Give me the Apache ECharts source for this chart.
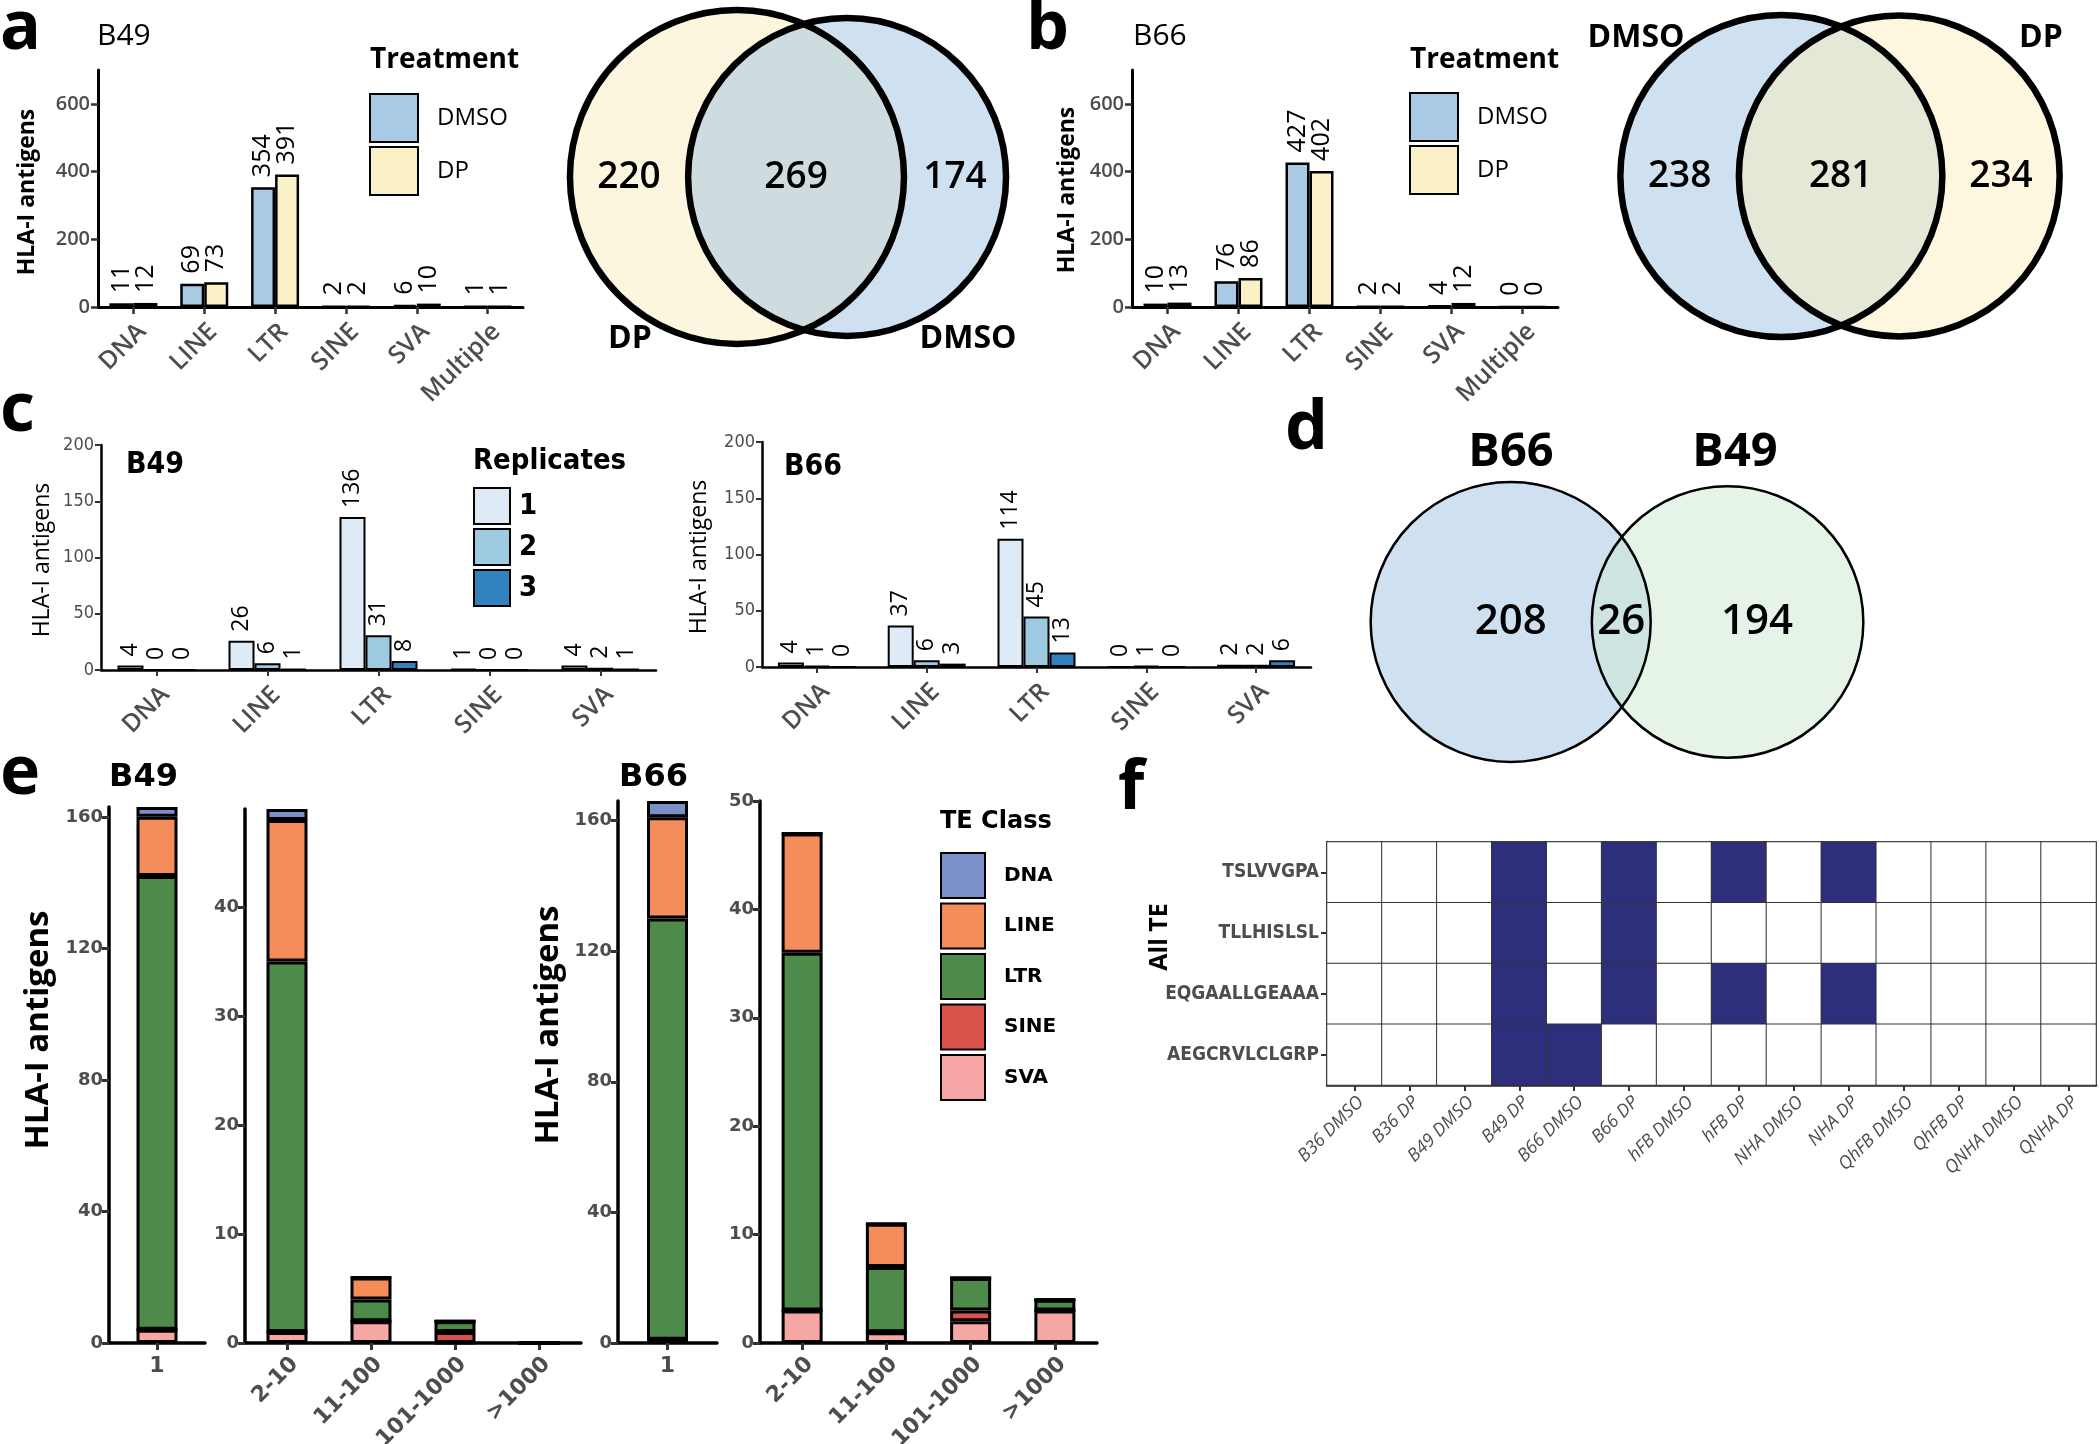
<!DOCTYPE html>
<html><head><meta charset="utf-8">
<script src="https://cdn.jsdelivr.net/npm/echarts@6/dist/echarts.min.js"></script>
<style>html,body{margin:0;padding:0;background:#fff}#c{width:2100px;height:1444px}</style>
</head><body><div id="c"></div><script>
// ================= DATA =================
// Panels a / b : HLA-I antigens per TE class and treatment
const teCats6 = ['DNA', 'LINE', 'LTR', 'SINE', 'SVA', 'Multiple'];
const treatments = ['DMSO', 'DP'];
const aB49_DMSO = [11, 69, 354, 2, 6, 1];
const aB49_DP   = [12, 73, 391, 2, 10, 1];
const bB66_DMSO = [10, 76, 427, 2, 4, 0];
const bB66_DP   = [13, 86, 402, 2, 12, 0];
const abTicks = [0, 200, 400, 600];

// Venn a / b : [left only, both, right only]
const vennA_sets = ['DP', 'DMSO'];
const vennA_counts = [220, 269, 174];
const vennB_sets = ['DMSO', 'DP'];
const vennB_counts = [238, 281, 234];

// Panel c : replicate counts
const teCats5 = ['DNA', 'LINE', 'LTR', 'SINE', 'SVA'];
const replicates = ['1', '2', '3'];
const cB49_rep1 = [4, 26, 136, 1, 4];
const cB49_rep2 = [0, 6, 31, 0, 2];
const cB49_rep3 = [0, 1, 8, 0, 1];
const cB66_rep1 = [4, 37, 114, 0, 2];
const cB66_rep2 = [1, 6, 45, 1, 2];
const cB66_rep3 = [0, 3, 13, 0, 6];
const cTicks = [0, 50, 100, 150, 200];

// Venn d
const vennD_sets = ['B66', 'B49'];
const vennD_counts = [208, 26, 194];

// Panel e : stacked by TE class
const teClasses = ['DNA', 'LINE', 'LTR', 'SINE', 'SVA'];
const eBinSingle = ['1'];
const eBins = ['2-10', '11-100', '101-1000', '>1000'];
const eB49_bin1 = [3, 18, 138, 0, 4];          // DNA, LINE, LTR, SINE, SVA in bin "1"
const eB49_DNA  = [1, 0, 0, 0];
const eB49_LINE = [13, 2, 0, 0];
const eB49_LTR  = [34, 2, 1, 0];
const eB49_SINE = [0, 0, 1, 0];
const eB49_SVA  = [1, 2, 0, 0];
const eB66_bin1 = [5, 31, 129, 0, 1];
const eB66_DNA  = [0, 0, 0, 0];
const eB66_LINE = [11, 4, 0, 0];
const eB66_LTR  = [33, 6, 3, 1];
const eB66_SINE = [0, 0, 1, 0];
const eB66_SVA  = [3, 1, 2, 3];
const eTicksSingle = [0, 40, 80, 120, 160];
const eTicksB49 = [0, 10, 20, 30, 40];
const eTicksB66 = [0, 10, 20, 30, 40, 50];

// Panel f : presence heatmap
const fSamples = ['B36 DMSO', 'B36 DP', 'B49 DMSO', 'B49 DP', 'B66 DMSO', 'B66 DP', 'hFB DMSO', 'hFB DP',
  'NHA DMSO', 'NHA DP', 'QhFB DMSO', 'QhFB DP', 'QNHA DMSO', 'QNHA DP'];
const fPeptides = ['TSLVVGPA', 'TLLHISLSL', 'EQGAALLGEAAA', 'AEGCRVLCLGRP'];
const fRow_TSLVVGPA     = [0,0,0,1,0,1,0,1,0,1,0,0,0,0];
const fRow_TLLHISLSL    = [0,0,0,1,0,1,0,0,0,0,0,0,0,0];
const fRow_EQGAALLGEAAA = [0,0,0,1,0,1,0,1,0,1,0,0,0,0];
const fRow_AEGCRVLCLGRP = [0,0,0,1,1,0,0,0,0,0,0,0,0,0];

// ================= STYLE =================
const FONT = "'Open Sans', 'DejaVu Sans', sans-serif";
const NARROW = "'Liberation Sans Narrow', 'DejaVu Sans Condensed', 'Open Sans', sans-serif";
const DEJAVU = "'DejaVu Sans', sans-serif";
const GREY = '#4d4d4d';
const colDMSO = '#a9c9e5', colDP = '#fbf1c7';
const colRep = ['#deebf7', '#9ecae1', '#3182bd'];
const colTE = { DNA: '#7b8fc9', LINE: '#f58d5b', LTR: '#4e8b4a', SINE: '#d9534d', SVA: '#f5a6a5' };
const colHeat = '#2d2e7c';

const grids = [], xAxes = [], yAxes = [], series = [], graphics = [], legends = [];
function addGrid(g) { grids.push(Object.assign({ outerBoundsMode: 'none', containLabel: false }, g)); return grids.length - 1; }
function txt(text, x, y, size, weight, family, o) {
  o = o || {};
  graphics.push({ type: 'text', x: x, y: y, rotation: o.rot || 0, silent: true, z: 50,
    style: { text: text, fontSize: size, fontWeight: weight, fontFamily: family, fill: o.fill || '#000',
      align: o.align || 'left', verticalAlign: 'middle', fontStyle: o.italic ? 'italic' : 'normal' } });
}

function valueAxis(gi, max, ticks, o) {
  yAxes.push({ gridIndex: gi, type: 'value', min: 0, max: max,
    axisLine: { show: true, lineStyle: { color: '#000', width: o.lw } },
    axisTick: { show: true, length: o.tl, customValues: ticks, lineStyle: { color: '#333', width: o.tw } },
    axisLabel: { show: true, customValues: ticks, fontSize: o.fs, color: GREY, fontFamily: o.ff, fontWeight: o.fw || 'normal', margin: o.m || 8 },
    splitLine: { show: false } });
  return yAxes.length - 1;
}
function catAxis(gi, cats, o) {
  const lab = { interval: 0, rotate: o.rot, fontSize: o.fs, color: GREY, fontFamily: o.ff, fontWeight: o.fw || 'normal', margin: o.m || 8 };
  if (o.rot) { lab.align = 'right'; lab.verticalAlign = 'top'; }
  xAxes.push({ gridIndex: gi, type: 'category', data: cats,
    axisLine: { show: true, lineStyle: { color: '#000', width: o.lw } },
    axisTick: { show: true, alignWithLabel: true, length: o.tl, lineStyle: { color: '#333', width: o.tw } },
    axisLabel: lab, splitLine: { show: false } });
  return xAxes.length - 1;
}
function barLabel(fs, dist) {
  return { show: true, position: 'top', rotate: 90, align: 'left', verticalAlign: 'middle', distance: dist,
    fontSize: fs, fontFamily: FONT, color: '#000' };
}

// ---------- Panels a and b ----------
function treatmentPanel(gpos, dmso, dp) {
  const gi = addGrid(gpos);
  const xi = catAxis(gi, teCats6, { lw: 3, tl: 7, tw: 2.5, rot: 45, fs: 25, ff: FONT, fw: 600, m: 12 });
  const yi = valueAxis(gi, 700, abTicks, { lw: 3, tl: 7, tw: 2.5, fs: 20, ff: FONT, fw: 600, m: 8 });
  [[treatments[0], dmso, colDMSO], [treatments[1], dp, colDP]].forEach(function (s) {
    series.push({ type: 'bar', name: s[0], xAxisIndex: xi, yAxisIndex: yi, data: s[1], barWidth: 24, barGap: '0%',
      itemStyle: { color: s[2], borderColor: '#000', borderWidth: 2.5 }, label: barLabel(25, 10),
      silent: true, emphasis: { disabled: true } });
  });
}
treatmentPanel({ left: 98, top: 70, width: 425, height: 237 }, aB49_DMSO, aB49_DP);
treatmentPanel({ left: 1132, top: 70, width: 426, height: 237 }, bB66_DMSO, bB66_DP);

// ---------- Panel c ----------
function replicatePanel(gpos, reps) {
  const gi = addGrid(gpos);
  const xi = catAxis(gi, teCats5, { lw: 2.5, tl: 6, tw: 2, rot: 45, fs: 25, ff: FONT, fw: 600, m: 12 });
  const yi = valueAxis(gi, 200, cTicks, { lw: 2.5, tl: 6, tw: 2, fs: 18, ff: NARROW, m: 7 });
  reps.forEach(function (vals, i) {
    series.push({ type: 'bar', name: replicates[i], xAxisIndex: xi, yAxisIndex: yi, data: vals, barWidth: 26, barGap: '0%',
      itemStyle: { color: colRep[i], borderColor: '#000', borderWidth: 2 }, label: barLabel(23, 9),
      silent: true, emphasis: { disabled: true } });
  });
}
replicatePanel({ left: 101, top: 445, width: 555, height: 225 }, [cB49_rep1, cB49_rep2, cB49_rep3]);
replicatePanel({ left: 762, top: 442, width: 549, height: 225 }, [cB66_rep1, cB66_rep2, cB66_rep3]);

// ---------- Panel e ----------
function stackPanel(gpos, cats, perClass, max, ticks, rot, stackId) {
  const gi = addGrid(gpos);
  const xi = catAxis(gi, cats, { lw: 3.5, tl: 7, tw: 3, rot: rot, fs: 22, ff: DEJAVU, fw: 'bold', m: rot ? 10 : 12 });
  const yi = valueAxis(gi, max, ticks, { lw: 3.5, tl: 7, tw: 3, fs: 18, ff: DEJAVU, fw: 'bold', m: 6 });
  // bottom-to-top stacking order: SVA, SINE, LTR, LINE, DNA
  ['SVA', 'SINE', 'LTR', 'LINE', 'DNA'].forEach(function (cls) {
    series.push({ type: 'bar', name: cls, stack: stackId, xAxisIndex: xi, yAxisIndex: yi, data: perClass[cls], barWidth: 41,
      itemStyle: { color: colTE[cls], borderColor: '#000', borderWidth: 3 }, silent: true, emphasis: { disabled: true } });
  });
}
function single(arr) { const o = {}; teClasses.forEach(function (c, i) { o[c] = [arr[i]]; }); return o; }
function sum(a) { return a.reduce(function (s, v) { return s + v; }, 0); }
const eB49multi = { DNA: eB49_DNA, LINE: eB49_LINE, LTR: eB49_LTR, SINE: eB49_SINE, SVA: eB49_SVA };
const eB66multi = { DNA: eB66_DNA, LINE: eB66_LINE, LTR: eB66_LTR, SINE: eB66_SINE, SVA: eB66_SVA };
const eB49multiMax = Math.max.apply(null, eBins.map(function (b, i) { return sum(teClasses.map(function (c) { return eB49multi[c][i]; })); }));
stackPanel({ left: 109, top: 807, width: 96, height: 536 }, eBinSingle, single(eB49_bin1), sum(eB49_bin1), eTicksSingle, 0, 'e1');
stackPanel({ left: 245, top: 809, width: 336, height: 534 }, eBins, eB49multi, eB49multiMax, eTicksB49, 45, 'e2');
stackPanel({ left: 618, top: 801, width: 99, height: 542 }, eBinSingle, single(eB66_bin1), sum(eB66_bin1), eTicksSingle, 0, 'e3');
stackPanel({ left: 760, top: 801, width: 337, height: 542 }, eBins, eB66multi, 50, eTicksB66, 45, 'e4');

// ---------- Panel f ----------
(function () {
  const gi = addGrid({ left: 1327, top: 842, width: 769, height: 243, show: true, borderColor: '#333', borderWidth: 1.5 });
  xAxes.push({ gridIndex: gi, type: 'category', data: fSamples,
    axisLine: { show: true, lineStyle: { color: '#222', width: 2.5 } },
    axisTick: { show: true, alignWithLabel: true, length: 6, lineStyle: { color: '#333', width: 2 } },
    axisLabel: { interval: 0, rotate: 45, align: 'right', verticalAlign: 'top', fontSize: 18, color: GREY, fontFamily: FONT, fontStyle: 'italic', margin: 8 },
    splitLine: { show: false }, splitArea: { show: false } });
  yAxes.push({ gridIndex: gi, type: 'category', data: fPeptides, inverse: true,
    axisLine: { show: true, lineStyle: { color: '#222', width: 2.5 } },
    axisTick: { show: true, alignWithLabel: true, length: 6, lineStyle: { color: '#333', width: 2 } },
    axisLabel: { interval: 0, fontSize: 19, color: GREY, fontFamily: NARROW, fontWeight: 'bold', margin: 8 },
    splitLine: { show: false }, splitArea: { show: false } });
  const rows = [fRow_TSLVVGPA, fRow_TLLHISLSL, fRow_EQGAALLGEAAA, fRow_AEGCRVLCLGRP];
  const data = [];
  rows.forEach(function (row, r) {
    row.forEach(function (v, c) { data.push({ value: [c, r, v], itemStyle: { color: v ? colHeat : '#ffffff' } }); });
  });
  series.push({ type: 'heatmap', name: 'heat', xAxisIndex: xAxes.length - 1, yAxisIndex: yAxes.length - 1, data: data,
    itemStyle: { borderColor: '#333', borderWidth: 1 }, silent: true, emphasis: { disabled: true } });
})();

// ---------- Venn diagrams (area-proportional, geometry computed from counts) ----------
const vgi = addGrid({ left: 0, top: 0, width: 2100, height: 1444 });
xAxes.push({ gridIndex: vgi, type: 'value', min: 0, max: 2100, show: false });
yAxes.push({ gridIndex: vgi, type: 'value', min: 0, max: 1444, inverse: true, show: false });
const VX = xAxes.length - 1, VY = yAxes.length - 1;
function lensArea(d, r1, r2) {
  if (d >= r1 + r2) return 0;
  if (d <= Math.abs(r1 - r2)) return Math.PI * Math.pow(Math.min(r1, r2), 2);
  const a1 = Math.acos((d * d + r1 * r1 - r2 * r2) / (2 * d * r1));
  const a2 = Math.acos((d * d + r2 * r2 - r1 * r1) / (2 * d * r2));
  return r1 * r1 * a1 + r2 * r2 * a2 - 0.5 * Math.sqrt((-d + r1 + r2) * (d + r1 - r2) * (d - r1 + r2) * (d + r1 + r2));
}
function venn(id, counts, anchor, k, colL, colR, bw, fs) {
  const onlyL = counts[0], both = counts[1], onlyR = counts[2];
  const r1 = Math.sqrt((onlyL + both) * k / Math.PI), r2 = Math.sqrt((onlyR + both) * k / Math.PI);
  let lo = Math.abs(r1 - r2) + 1e-6, hi = r1 + r2;
  for (let i = 0; i < 80; i++) { const m = (lo + hi) / 2; if (lensArea(m, r1, r2) > both * k) lo = m; else hi = m; }
  const d = (lo + hi) / 2;
  const x1 = anchor[0] - (r1 + d + r2) / 2 + r1, x2 = x1 + d, cy = anchor[1];
  const base = { type: 'scatter', xAxisIndex: VX, yAxisIndex: VY, symbol: 'circle', silent: true, clip: false, emphasis: { disabled: true } };
  series.push(Object.assign({}, base, { name: id + 'L', z: 1, data: [[x1, cy]], symbolSize: 2 * r1, itemStyle: { color: colL, opacity: 1, borderWidth: 0 } }));
  series.push(Object.assign({}, base, { name: id + 'R', z: 1, data: [[x2, cy]], symbolSize: 2 * r2, itemStyle: { color: colR, opacity: 1, borderWidth: 0 } }));
  series.push(Object.assign({}, base, { name: id + 'O', z: 3,
    data: [{ value: [x1, cy], symbolSize: 2 * r1 }, { value: [x2, cy], symbolSize: 2 * r2 }],
    itemStyle: { color: 'rgba(0,0,0,0)', borderColor: '#000', borderWidth: bw, opacity: 1 } }));
  const lx = (x1 > x2 - r2) ? (x1 - r1 + x2 - r2) / 2 : x1;
  const rx = (x1 + r1 + x2 + r2) / 2;
  const mx = (x2 - r2 + x1 + r1) / 2;
  series.push(Object.assign({}, base, { name: id + 'T', z: 4, data: [[lx, cy], [mx, cy], [rx, cy]], symbolSize: 1,
    itemStyle: { color: 'rgba(0,0,0,0)', opacity: 1 },
    label: { show: true, position: 'inside', formatter: function (p) { return String(counts[p.dataIndex]); },
      fontSize: fs, fontWeight: 600, fontFamily: FONT, color: '#000' } }));
}
venn('va', vennA_counts, [788, 177], 179.2, '#fcf6de', 'rgba(159,193,225,0.5)', 6.5, 37);
venn('vb', vennB_counts, [1840, 176], 156.9, '#cfe0f0', 'rgba(249,239,189,0.5)', 6.5, 37);
venn('vd', vennD_counts, [1617, 622], 263.2, '#cfe0f0', 'rgba(205,231,207,0.5)', 2.5, 42);

// ---------- Legends ----------
legends.push({ data: treatments, left: 369, top: 93, orient: 'vertical', icon: 'rect', itemWidth: 48, itemHeight: 48, itemGap: 3, padding: 0, selectedMode: false,
  textStyle: { fontSize: 24, fontFamily: FONT, color: '#000', padding: [0, 0, 0, 14] } });
legends.push({ data: treatments, left: 1409, top: 92, orient: 'vertical', icon: 'rect', itemWidth: 48, itemHeight: 48, itemGap: 3, padding: 0, selectedMode: false,
  textStyle: { fontSize: 24, fontFamily: FONT, color: '#000', padding: [0, 0, 0, 14] } });
legends.push({ data: replicates, left: 473, top: 487, orient: 'vertical', icon: 'rect', itemWidth: 36, itemHeight: 36, itemGap: 3, padding: 0, selectedMode: false,
  textStyle: { fontSize: 29, fontWeight: 'bold', fontFamily: NARROW, color: '#000', padding: [0, 0, 0, 4] } });
legends.push({ data: teClasses, left: 940, top: 852, orient: 'vertical', icon: 'rect', itemWidth: 44, itemHeight: 45, itemGap: 3.5, padding: 0, selectedMode: false,
  textStyle: { fontSize: 20, fontWeight: 'bold', fontFamily: DEJAVU, color: '#000', padding: [0, 0, 0, 14] } });

// ---------- Texts ----------
// panel letters
txt('a', 0, 30, 68, 'bold', FONT); txt('b', 1026, 30, 68, 'bold', FONT);
txt('c', 0, 412, 68, 'bold', FONT); txt('d', 1285, 430, 68, 'bold', FONT);
txt('e', 0, 775, 68, 'bold', FONT); txt('f', 1118, 790, 68, 'bold', FONT);
// sub titles
txt('B49', 97, 36, 30, 'normal', FONT); txt('B66', 1133, 36, 30, 'normal', FONT);
txt('B49', 126, 465, 30, 'bold', NARROW); txt('B66', 784, 467, 30, 'bold', NARROW);
txt('B49', 109, 778, 32, 'bold', DEJAVU); txt('B66', 619, 778, 32, 'bold', DEJAVU);
// legend titles
txt('Treatment', 370, 60, 28, 'bold', FONT); txt('Treatment', 1410, 60, 28, 'bold', FONT);
txt('Replicates', 473, 461, 29, 'bold', NARROW);
txt('TE Class', 940, 822, 24, 'bold', DEJAVU);
// axis titles
const R = Math.PI / 2;
txt('HLA-I antigens', 27, 192, 23, 'bold', FONT, { rot: R, align: 'center' });
txt('HLA-I antigens', 1067, 190, 23, 'bold', FONT, { rot: R, align: 'center' });
txt('HLA-I antigens', 42, 560, 23, 500, FONT, { rot: R, align: 'center' });
txt('HLA-I antigens', 699, 557, 23, 500, FONT, { rot: R, align: 'center' });
txt('HLA-I antigens', 39, 1030, 33, 'bold', FONT, { rot: R, align: 'center' });
txt('HLA-I antigens', 549, 1025, 33, 'bold', FONT, { rot: R, align: 'center' });
txt('All TE', 1160, 937, 25, 'bold', FONT, { rot: R, align: 'center' });
// venn set names
txt(vennA_sets[0], 630, 339, 32, 'bold', FONT, { align: 'center' });
txt(vennA_sets[1], 968, 339, 32, 'bold', FONT, { align: 'center' });
txt(vennB_sets[0], 1636, 38, 32, 'bold', FONT, { align: 'center' });
txt(vennB_sets[1], 2041, 38, 32, 'bold', FONT, { align: 'center' });
txt(vennD_sets[0], 1511, 453, 47, 'bold', FONT, { align: 'center' });
txt(vennD_sets[1], 1735, 453, 47, 'bold', FONT, { align: 'center' });

const chart = echarts.init(document.getElementById('c'), null, { renderer: 'canvas' });
chart.setOption({
  backgroundColor: '#ffffff', animation: false, textStyle: { fontFamily: FONT },
  grid: grids, xAxis: xAxes, yAxis: yAxes, series: series, legend: legends, graphic: graphics
});
</script></body></html>
